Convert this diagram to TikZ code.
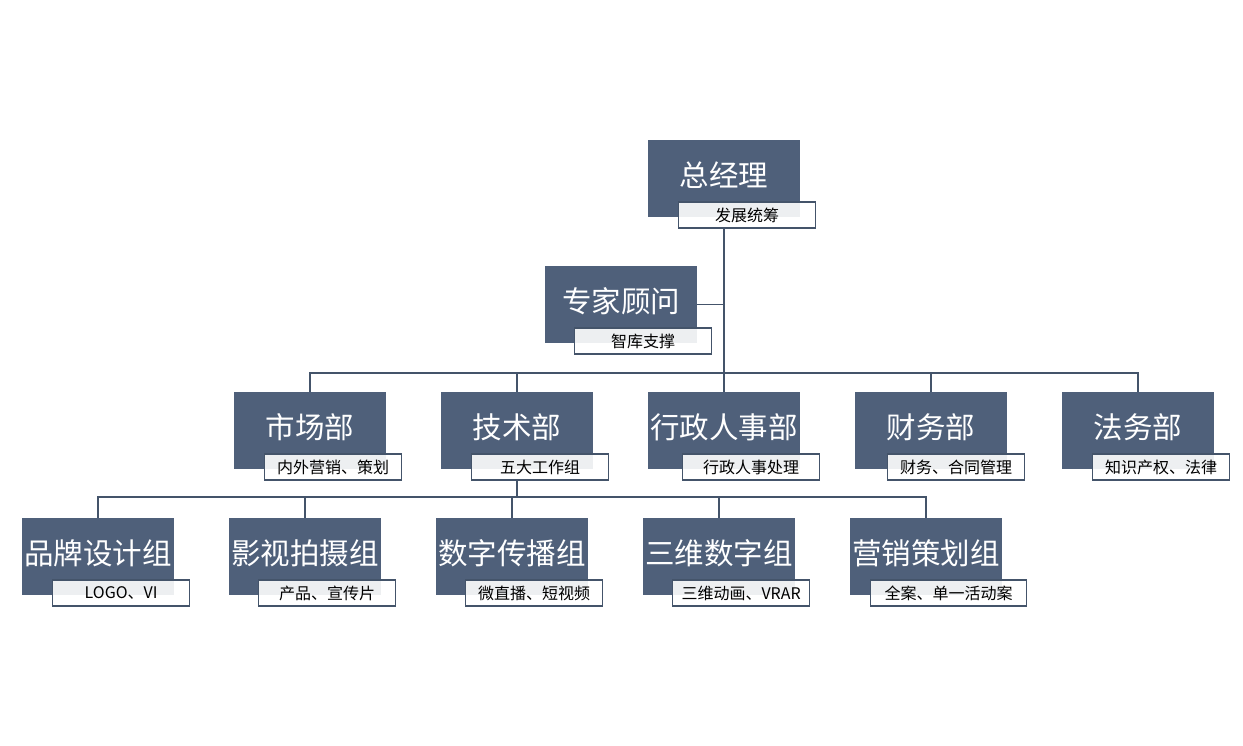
\documentclass[tikz,border=0pt]{standalone}
\usepackage{fontspec}
\setmainfont{Noto Sans CJK SC}
\usetikzlibrary{positioning}
\definecolor{slate}{RGB}{79,96,122}
\definecolor{wire}{RGB}{68,84,106}

\begin{document}
\begin{tikzpicture}[
    x=1pt, y=-1pt,
    head/.style={fill=slate, text=white, minimum width=152pt, minimum height=77pt, inner sep=0pt, text height=25pt, text depth=9pt, font=\fontsize{29.5}{32}\selectfont},
    sub/.style={draw=wire, line width=1.6pt, fill=white, fill opacity=0.9, text opacity=1, text=black, minimum width=137pt, minimum height=26pt, inner sep=0pt, anchor=north west, font=\fontsize{16}{18}\selectfont},
    conn/.style={draw=wire, line width=1.8pt}
]
\useasboundingbox (0,0) rectangle (1243,746);

% Top level
\node[head] (gm) at (724,178.5) {总经理};
\node[sub] (gmsub) at ([shift={(30pt,16pt)}]gm.south west) {发展统筹};
\node[head] (expert) at (621,304.5) {专家顾问};
\node[sub] (expertsub) at ([shift={(29pt,16pt)}]expert.south west) {智库支撑};

% Departments
\node[head] (mkt)   at (310,430.5)  {市场部};
\node[head] (tech)  at (517,430.5)  {技术部};
\node[head] (admin) at (724,430.5)  {行政人事部};
\node[head] (fin)   at (931,430.5)  {财务部};
\node[head] (law)   at (1138,430.5) {法务部};
\node[sub] (mktsub)   at ([shift={(30pt,16pt)}]mkt.south west)   {内外营销、策划};
\node[sub] (techsub)  at ([shift={(30pt,16pt)}]tech.south west)  {五大工作组};
\node[sub] (adminsub) at ([shift={(34pt,16pt)}]admin.south west) {行政人事处理};
\node[sub] (finsub)   at ([shift={(32pt,16pt)}]fin.south west)   {财务、合同管理};
\node[sub] (lawsub)   at ([shift={(30pt,16pt)}]law.south west)   {知识产权、法律};

% Work groups
\node[head] (brand)  at (98,556.5)  {品牌设计组};
\node[head] (film)   at (305,556.5) {影视拍摄组};
\node[head] (media)  at (512,556.5) {数字传播组};
\node[head] (threed) at (719,556.5) {三维数字组};
\node[head] (plan)   at (926,556.5) {营销策划组};
\node[sub] (brandsub)  at ([shift={(30pt,16pt)}]brand.south west)  {LOGO、VI};
\node[sub] (filmsub)   at ([shift={(29pt,16pt)}]film.south west)   {产品、宣传片};
\node[sub] (mediasub)  at ([shift={(29pt,16pt)}]media.south west)  {微直播、短视频};
\node[sub] (threedsub) at ([shift={(29pt,16pt)}]threed.south west) {三维动画、VRAR};
\node[sub, minimum width=156pt] (plansub) at ([shift={(20pt,16pt)}]plan.south west) {全案、单一活动案};

% Bus points
\coordinate (bus1) at (724,373);
\coordinate (bus2) at (517,497);

% Connectors
\draw[conn] (gm |- gmsub.south) -- (bus1);
\draw[conn] (expert.east) -- (expert.east -| gm);
\foreach \n in {mkt,tech,admin,fin,law}
    \draw[conn] (\n.north) |- (bus1);
\draw[conn] (tech |- techsub.south) -- (bus2);
\foreach \n in {brand,film,media,threed,plan}
    \draw[conn] (\n.north) |- (bus2);

\end{tikzpicture}
\end{document}
